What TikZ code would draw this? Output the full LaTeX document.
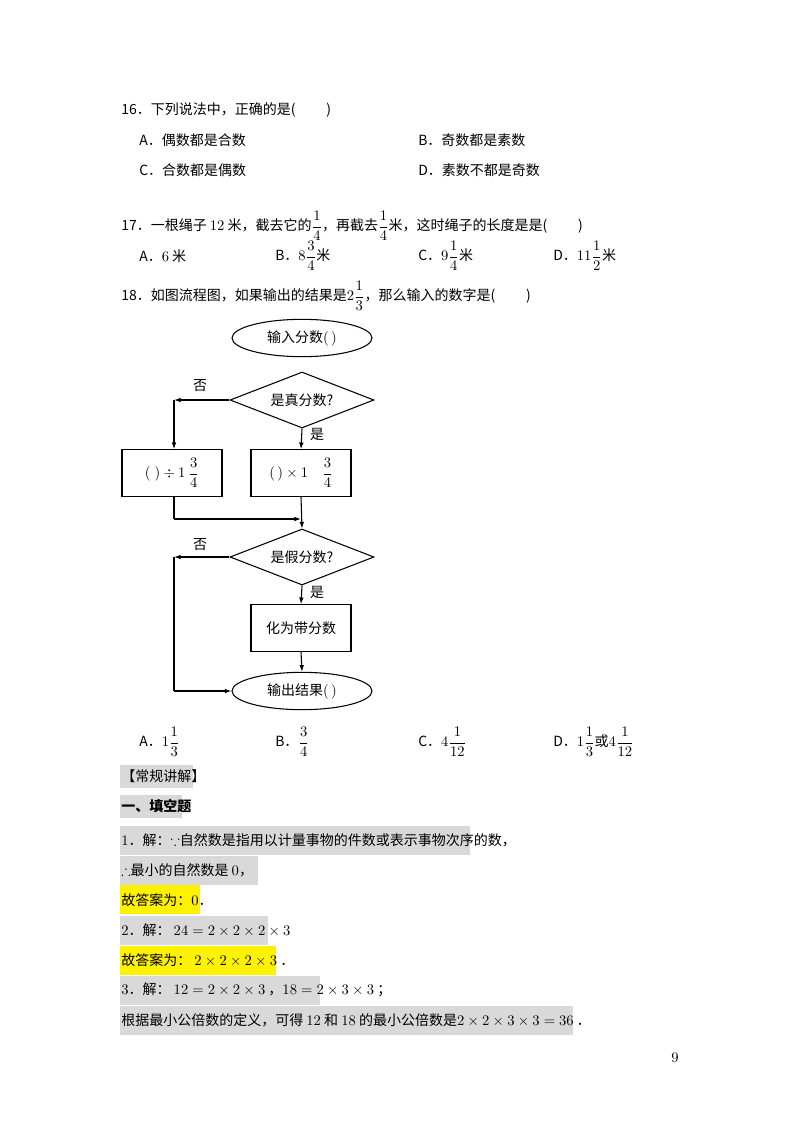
\documentclass[tikz,border=0pt]{standalone}
\usepackage{amssymb}
\usepackage{fontspec}
\setmainfont{Noto Sans CJK SC}
\usetikzlibrary{shapes.geometric,arrows.meta}
\tikzset{
  txt/.style={anchor=west, inner sep=0pt},
  blk/.style={draw, thick, minimum width=75pt, minimum height=35pt},
  term/.style={ellipse, draw, thick, minimum width=105pt, minimum height=28pt, inner sep=1pt},
  dec/.style={diamond, draw, thick, aspect=2.55, minimum width=108pt, minimum height=42pt, inner sep=0pt},
  flow/.style={thick, -{Latex[length=5pt,width=3.5pt]}},
  gray/.style={fill=black!15, draw=none},
  yel/.style={fill=yellow, draw=none}
}
\newcommand{\fr}[2]{{\displaystyle\frac{#1}{#2}}}
\begin{document}
\begin{tikzpicture}[x=1pt,y=-1pt,scale=0.75,every node/.style={font=\fontsize{10.5}{12}\selectfont}]
\useasboundingbox (0,0) rectangle (800,1132);
% questions
\node[txt] (q16) at (121,110) {16．下列说法中，正确的是(\hspace{2.2em})};
\node[txt] (a16) at (139,140) {A．偶数都是合数};
\node[txt] (b16) at (418,140) {B．奇数都是素数};
\node[txt] (c16) at (139,170) {C．合数都是偶数};
\node[txt] (d16) at (418,170) {D．素数不都是奇数};
\node[txt] (q17) at (121,226) {17．一根绳子 $12$ 米，截去它的$\fr14$，再截去$\fr14$米，这时绳子的长度是是(\hspace{2.2em})};
\node[txt] (a17) at (139,256) {A．$6$ 米};
\node[txt] (b17) at (275,256) {B．$8\fr34$米};
\node[txt] (c17) at (418,256) {C．$9\fr14$米};
\node[txt] (d17) at (553,256) {D．$11\fr12$米};
\node[txt] (q18) at (121,296) {18．如图流程图，如果输出的结果是$2\fr13$，那么输入的数字是(\hspace{2.2em})};
% flowchart
\node[term] (in) at (302,338) {输入分数$(\,)$};
\node[dec] (d1) at (302,400) {是真分数?};
\node[blk] (div) at (172,473) {$(\;)\div1\ \fr34$};
\node[blk] (mul) at (301,473) {$(\,)\times1\quad\fr34$};
\node[dec] (d2) at (302,557) {是假分数?};
\node[blk] (conv) at (301,628) {化为带分数};
\node[term] (out) at (302,691) {输出结果$(\,)$};
\coordinate (l1) at (174,400);
\coordinate (j1) at (174,519);
\coordinate (j2) at (301,519);
\coordinate (l2) at (174,557);
\coordinate (l3) at (174,691);
\draw[flow] (d1.west) -- (l1);
\draw[flow] (l1) -- (l1 |- div.north);
\draw[flow] (d1.south) -- (mul.north);
\draw[thick] (l1 |- div.south) -- (j1);
\draw[flow] (j1) -- (j2);
\draw[flow] (mul.south) -- (d2.north);
\draw[flow] (d2.west) -- (l2);
\draw[thick] (l2) -- (l3);
\draw[flow] (l3) -- (out.west);
\draw[flow] (d2.south) -- (conv.north);
\draw[flow] (conv.south) -- (out.north);
\node (no1) at (200,386) {否};
\node (no2) at (200,545) {否};
\node (yes1) at (317,434) {是};
\node (yes2) at (317,592) {是};
% answers of 18
\node[txt] (a18) at (139,742) {A．$1\fr13$};
\node[txt] (b18) at (275,742) {B．$\fr34$};
\node[txt] (c18) at (418,742) {C．$4\fr1{12}$};
\node[txt] (d18) at (553,742) {D．$1\fr13$或$4\fr1{12}$};
% explanation
\foreach \ya/\yb/\xb/\st in {765/788/193/gray, 795/818/182/gray, 826/855/470/gray, 856/885/258/gray, 885/914/200/yel, 916/945/268/gray, 946/975/276/yel, 976/1005/320/gray, 1006/1035/573/gray}
  \fill[\st] (120,\ya) rectangle (\xb,\yb);
\node[txt] (h1) at (121,776) {【常规讲解】};
\node[txt] (h2) at (121,806) {\bfseries 一、填空题};
\node[txt] (s1) at (121,840) {$1$．解：$\because$自然数是指用以计量事物的件数或表示事物次序的数，};
\node[txt] (s2) at (121,870) {$\therefore$最小的自然数是 $0$，};
\node[txt] (s3) at (121,900) {故答案为：$0$．};
\node[txt] (s4) at (121,930) {$2$．解：\ $24=2\times2\times2\times3$};
\node[txt] (s5) at (121,960) {故答案为：\ $2\times2\times2\times3$ ．};
\node[txt] (s6) at (121,990) {$3$．解：\ $12=2\times2\times3$ ，$18=2\times3\times3$ ；};
\node[txt] (s7) at (121,1020) {根据最小公倍数的定义，可得 $12$ 和 $18$ 的最小公倍数是$2\times2\times3\times3=36$ ．};
\node (pg) at (675,1058) {$9$};
\end{tikzpicture}
\end{document}
